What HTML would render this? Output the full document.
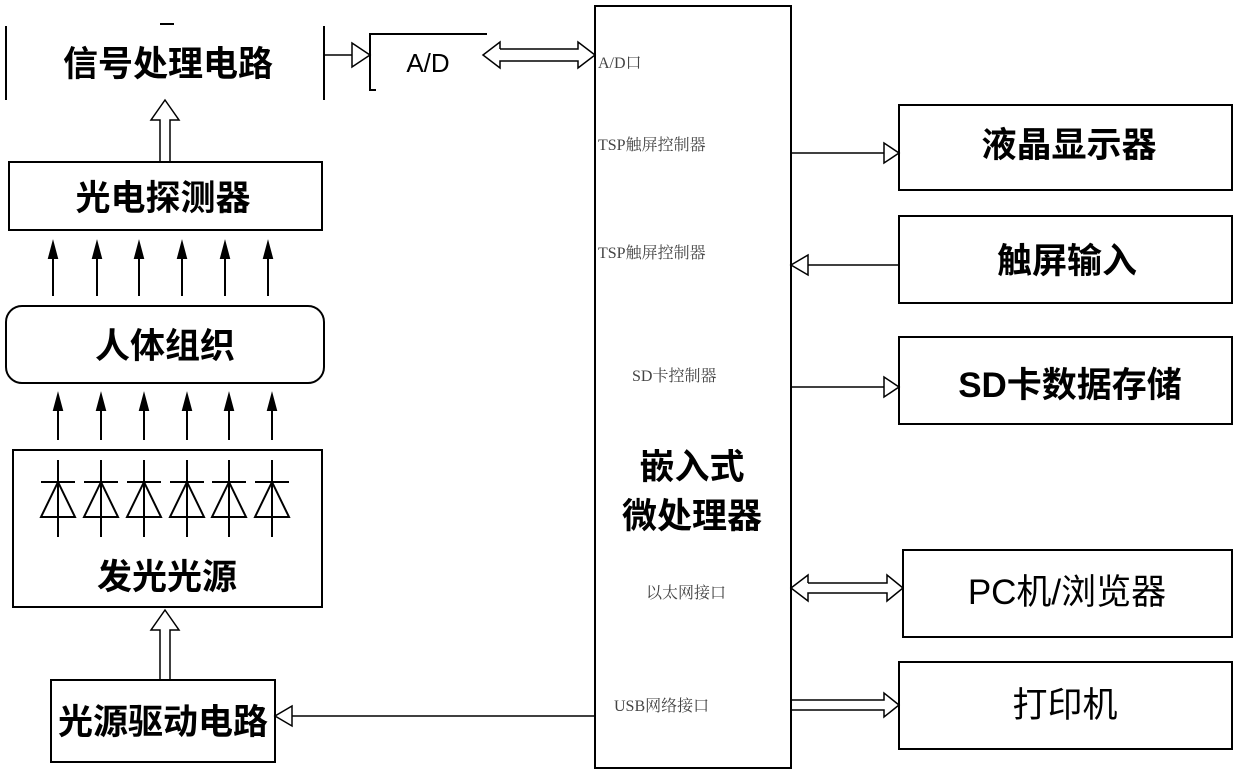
<!DOCTYPE html>
<html><head><meta charset="utf-8"><style>
html,body{margin:0;padding:0;background:#fff;}
svg{display:block;}
.b{font-family:"Liberation Sans","Noto Sans CJK SC",sans-serif;font-weight:bold;fill:#000;}
.r{font-family:"Liberation Sans","Noto Sans CJK SC",sans-serif;fill:#000;}
.s{font-family:"Liberation Serif","Noto Serif CJK SC",serif;fill:#444;font-size:16px;}
</style></head><body>
<svg width="1240" height="773" viewBox="0 0 1240 773" xmlns="http://www.w3.org/2000/svg">
<g stroke="#000" stroke-width="2" fill="none">
<line x1="6" y1="26" x2="6" y2="100"/>
<line x1="324" y1="26" x2="324" y2="100"/>
<line x1="160" y1="24" x2="174" y2="24"/>
<polyline points="487,34 370,34 370,90 376,90"/>
<rect x="595" y="6" width="196" height="762"/>
<rect x="9" y="162" width="313" height="68"/>
<rect x="6" y="306" width="318" height="77" rx="16"/>
<rect x="13" y="450" width="309" height="157"/>
<rect x="51" y="680" width="224" height="82"/>
<rect x="899" y="105" width="333" height="85"/>
<rect x="899" y="216" width="333" height="87"/>
<rect x="899" y="337" width="333" height="87"/>
<rect x="903" y="550" width="329" height="87"/>
<rect x="899" y="662" width="333" height="87"/>
</g>
<g stroke="#000" stroke-width="1.5" fill="none">
<polyline points="324,55 352,55"/>
<polygon points="352,43 370,55 352,67"/>
<polyline points="500,49 578,49 578,42 595,55 578,68 578,61 500,61 500,68 483,55 500,42 500,49"/>
<polygon points="160,162 160,120 151,120 165,100 179,120 170,120 170,162"/>
<polygon points="160,680 160,630 151,630 165,610 179,630 170,630 170,680"/>
<line x1="595" y1="716" x2="292" y2="716"/>
<polygon points="292,706 275,716 292,726"/>
<line x1="791" y1="153" x2="884" y2="153"/>
<polygon points="884,143 899,153 884,163"/>
<line x1="899" y1="265" x2="808" y2="265"/>
<polygon points="808,255 791,265 808,275"/>
<line x1="791" y1="387" x2="884" y2="387"/>
<polygon points="884,377 899,387 884,397"/>
<polyline points="808,583 887,583 887,575 903,588 887,601 887,593 808,593 808,601 791,588 808,575 808,583"/>
<polyline points="791,700 884,700 884,693 899,705 884,717 884,710 791,710"/>
</g>
<g stroke="#000" stroke-width="2" fill="#000">
<g id="a1">
<line x1="53" y1="250" x2="53" y2="296"/><polygon points="49,258 53,243 57,258"/>
</g>
<use href="#a1" x="44"/><use href="#a1" x="86"/><use href="#a1" x="129"/><use href="#a1" x="172"/><use href="#a1" x="215"/>
<g id="a2">
<line x1="58" y1="402" x2="58" y2="440"/><polygon points="54,410 58,395 62,410"/>
</g>
<use href="#a2" x="43"/><use href="#a2" x="86"/><use href="#a2" x="129"/><use href="#a2" x="171"/><use href="#a2" x="214"/>
</g>
<g stroke="#000" stroke-width="2" fill="none">
<g id="d">
<line x1="58" y1="460" x2="58" y2="537"/>
<line x1="41" y1="482" x2="75" y2="482"/>
<polygon points="58,482 41,517 75,517"/>
</g>
<use href="#d" x="43"/><use href="#d" x="86"/><use href="#d" x="129"/><use href="#d" x="171"/><use href="#d" x="214"/>
</g>
<text class="b" x="168" y="76" font-size="35" text-anchor="middle">信号处理电路</text>
<text class="r" x="428" y="72" font-size="26" text-anchor="middle">A/D</text>
<text class="b" x="163" y="210" font-size="35" text-anchor="middle">光电探测器</text>
<text class="b" x="165" y="358" font-size="35" text-anchor="middle">人体组织</text>
<text class="b" x="167" y="589" font-size="35" text-anchor="middle">发光光源</text>
<text class="b" x="163" y="734" font-size="35" text-anchor="middle">光源驱动电路</text>
<text class="b" x="692" y="479" font-size="35" text-anchor="middle">嵌入式</text>
<text class="b" x="692" y="528" font-size="35" text-anchor="middle">微处理器</text>
<text class="s" x="598" y="68">A/D口</text>
<text class="s" x="598" y="150">TSP触屏控制器</text>
<text class="s" x="598" y="258">TSP触屏控制器</text>
<text class="s" x="632" y="381">SD卡控制器</text>
<text class="s" x="646" y="598">以太网接口</text>
<text class="s" x="614" y="711">USB网络接口</text>
<text class="b" x="1069" y="157" font-size="35" text-anchor="middle">液晶显示器</text>
<text class="b" x="1067" y="273" font-size="35" text-anchor="middle">触屏输入</text>
<text class="b" x="1070" y="397" font-size="35" text-anchor="middle">SD卡数据存储</text>
<text class="r" x="1067" y="604" font-size="35" text-anchor="middle">PC机/浏览器</text>
<text class="r" x="1065" y="717" font-size="35" text-anchor="middle">打印机</text>
</svg>
</body></html>
